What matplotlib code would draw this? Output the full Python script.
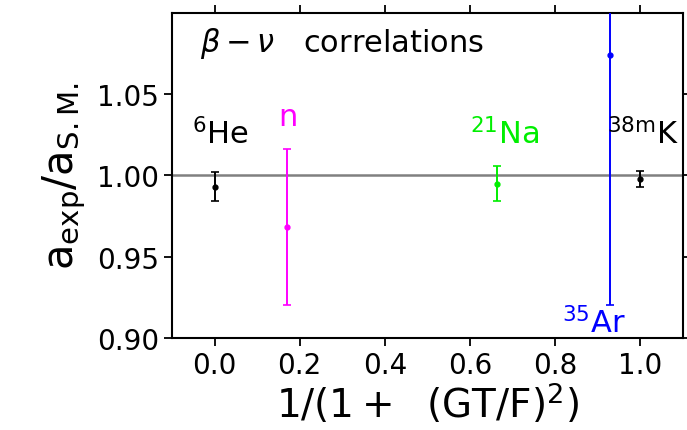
import matplotlib
matplotlib.use('Agg')
import matplotlib.pyplot as plt

# data
names = ['6He', 'n', '21Na', '35Ar', '38mK']
xval = [0.0, 0.17, 0.664, 0.929, 1.0]
ratio = [0.993, 0.968, 0.995, 1.074, 0.998]
err = [0.009, 0.048, 0.011, 0.154, 0.005]
colors = ['black', '#ff00ff', '#00ee00', '#0000ff', 'black']

labels = [r'$\mathregular{^{6}He}$', r'$\mathregular{n}$', r'$\mathregular{^{21}Na}$',
          r'$\mathregular{^{35}Ar}$', r'$\mathregular{^{38m}K}$']
label_pos = [(-0.052, 1.020), (0.17, 1.031), (0.60, 1.020), (0.815, 0.9037), (0.921, 1.020)]
label_ha = ['left', 'center', 'left', 'left', 'left']

xticks = [0.0, 0.2, 0.4, 0.6, 0.8, 1.0]
yticks = [0.90, 0.95, 1.00, 1.05]


def main():
    fig = plt.figure(figsize=(6.87, 4.31), dpi=100)
    ax = fig.add_axes([0.2504, 0.2135, 0.994 - 0.2504, 0.9675 - 0.2135])

    ax.axhline(1.0, color='#808080', lw=1.8, zorder=1)
    for i in range(len(names)):
        ax.errorbar(xval[i], ratio[i], yerr=err[i], fmt='o', ms=3.5, color=colors[i],
                    ecolor=colors[i], elinewidth=1.4, capsize=3, capthick=1.2, zorder=3)
        ax.text(label_pos[i][0], label_pos[i][1], labels[i], color=colors[i],
                fontsize=22, ha=label_ha[i], va='baseline')

    ax.text(-0.034, 1.0765, r'$\beta-\nu$   correlations', fontsize=22, va='baseline')

    ax.set_xlim(-0.1, 1.1)
    ax.set_ylim(0.90, 1.10)
    ax.set_xticks(xticks)
    ax.set_yticks(yticks)
    ax.set_xticklabels(['%.1f' % t for t in xticks])
    ax.set_yticklabels(['%.2f' % t for t in yticks])
    ax.tick_params(direction='out', length=6, width=1.3, labelsize=20,
                   top=True, right=True, labeltop=False, labelright=False)
    for s in ax.spines.values():
        s.set_linewidth(1.5)

    ax.set_xlabel(r'$\mathregular{1/(1+\ \ (GT/F)^{2})}$', fontsize=28, labelpad=1)
    ax.set_ylabel(r'$\mathregular{a_{exp}/a_{S.M.}}$', fontsize=30, labelpad=6)

    fig.savefig('out.png', dpi=100)
    return 0


main()
